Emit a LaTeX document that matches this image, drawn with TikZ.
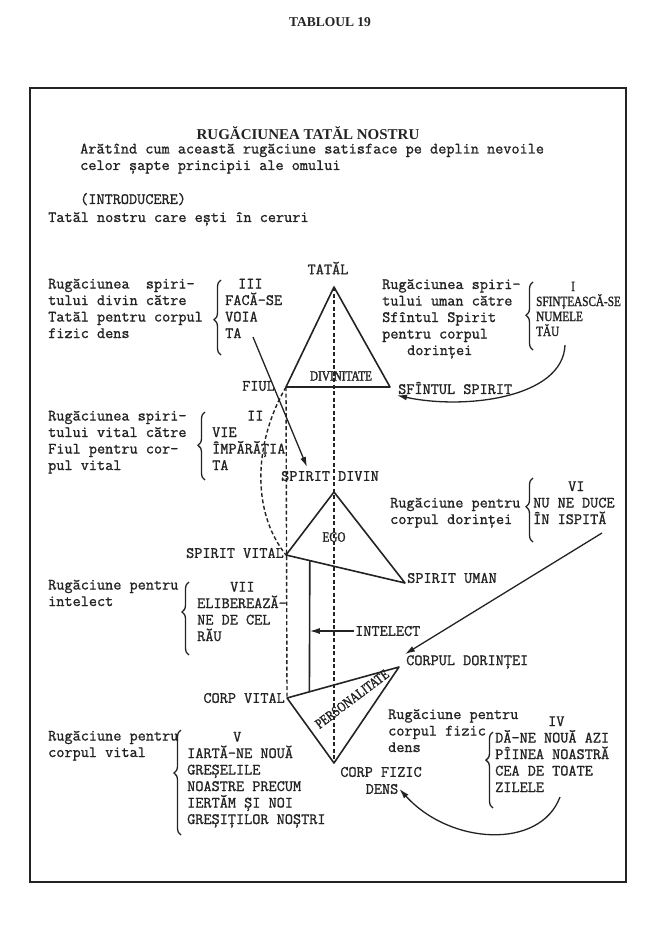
\documentclass[tikz,border=0pt]{standalone}
\usepackage{fontspec}
\usepackage{tikz}
\usetikzlibrary{arrows.meta,positioning,calc,decorations.pathreplacing}
\setmonofont[FakeBold=1.2]{Latin Modern Mono}
\newfontfamily\headfont{Liberation Serif}
\newfontfamily\condfont[FakeStretch=0.8,FakeBold=1.5]{Liberation Serif}
\definecolor{ink}{RGB}{35,35,35}
\newcommand{\tw}{\fontsize{15.8}{16.5}\selectfont\ttfamily\bfseries}

\begin{document}
\begin{tikzpicture}[
  x=1pt, y=-1pt,
  txt/.style={font=\tw, text=ink, align=left, anchor=base west, inner sep=0pt},
  lbl/.style={font=\tw, text=ink, inner sep=1pt},
  cond/.style={font=\fontsize{14}{15}\selectfont\condfont, text=ink, inner sep=0pt},
  edge/.style={draw=ink, line width=1.6pt, line join=round},
  dline/.style={draw=ink, line width=1.4pt, dash pattern=on 4pt off 2.5pt},
  arr/.style={-{Latex[length=10pt,width=6pt]}, draw=ink, line width=1.3pt},
  brc/.style={decorate, decoration={brace, amplitude=7pt, aspect=#1}, draw=ink, line width=1.3pt}
]
\useasboundingbox (0,0) rectangle (657,925);
\draw[draw=ink, line width=1.7pt] (30,88) rectangle (626,882);

\node[font=\fontsize{13.5}{15}\selectfont\headfont\bfseries, text=ink] (tabl) at (330,22) {TABLOUL 19};
\node[font=\fontsize{15}{15}\selectfont\headfont\bfseries, text=ink] (titlu) at (308,133) {RUGĂCIUNEA TATĂL NOSTRU};
\node[txt] (intro) at (80,170) {Arătînd cum această rugăciune satisface pe deplin nevoile\\celor șapte principii ale omului};
\node[txt] (introd) at (80,204) {(INTRODUCERE)};
\node[txt] (tatal0) at (48,222) {Tatăl nostru care ești în ceruri};

\coordinate (tA) at (334,287);
\coordinate (fi) at (286,387);
\coordinate (ss) at (390,387);
\coordinate (sd) at (334,492);
\coordinate (sv) at (286,555);
\coordinate (su) at (405,583);
\coordinate (cd) at (399,667);
\coordinate (cv) at (287,698);
\coordinate (cf) at (334,763);
\coordinate (iTop) at ($(sv)!0.2!(su)$);
\coordinate (iBot) at ($(cv)!0.2!(cd)$);

\draw[dline] (tA) -- (cf);
\draw[dline] (fi) -- (cv);
\draw[dline] (fi) .. controls (255,440) and (250,510) .. (sv);
\draw[edge] (tA) -- (fi) -- (ss) -- cycle;
\draw[edge] (sd) -- (sv) -- (su) -- cycle;
\draw[edge] (cv) -- (cd) -- (cf) -- cycle;
\draw[edge] (iTop) -- (iBot);

\node[lbl] (tatal) at (328,268) {TATĂL};
\node[lbl, anchor=east] (fiul) at (276,386) {FIUL};
\node[lbl, anchor=west] (sfsp) at (397,388) {SFÎNTUL SPIRIT};
\node[cond] (divin) at (341,376) {DIVINITATE};
\node[lbl] (sdiv) at (330,476) {SPIRIT DIVIN};
\node[cond] (ego) at (334,537) {EGO};
\node[lbl, anchor=east] (svit) at (285,553) {SPIRIT VITAL};
\node[lbl, anchor=west] (suman) at (406,578) {SPIRIT UMAN};
\node[lbl, anchor=west] (intel) at (354,631) {INTELECT};
\node[lbl, anchor=west] (cdor) at (405,662) {CORPUL DORINȚEI};
\node[lbl, anchor=east] (cvit) at (286,698) {CORP VITAL};
\node[cond, rotate=37] (pers) at (352,699) {PERSONALITATE};
\node[lbl] (cfiz) at (381,772) {CORP FIZIC};
\node[lbl] (dens) at (382,789) {DENS};

\node[txt] (lIII) at (48,338) {Rugăciunea\ \ spiri-\\tului divin către\\Tatăl pentru corpul\\fizic dens};
\draw[brc=0.47] (221,355) -- (221,280);
\node[txt] (rIII) at (225,338) {\hspace*{13pt}III\\FACĂ-SE\\VOIA\\TA};
\coordinate (taIII) at (253,337);
\coordinate (sdivT) at (307,467);

\node[txt] (lI) at (382,355) {Rugăciunea spiri-\\tului uman către\\Sfîntul Spirit\\pentru corpul\\\hspace*{25pt}dorinței};
\draw[brc=0.51] (533,350) -- (533,282);
\node[cond, align=left, anchor=base west] (rI) at (536,336) {\hspace*{35pt}I\\SFINȚEASCĂ-SE\\NUMELE\\TĂU};
\coordinate (tauI) at (565,345);

\node[txt] (lII) at (48,470) {Rugăciunea spiri-\\tului vital către\\Fiul pentru cor-\\pul vital};
\draw[brc=0.51] (205,480) -- (205,412);
\node[txt] (rII) at (212,470) {\hspace*{35pt}II\\VIE\\ÎMPĂRĂȚIA\\TA};

\node[txt] (lVI) at (390,524) {Rugăciune pentru\\corpul dorinței};
\draw[brc=0.55] (533,542) -- (533,478);
\node[txt] (rVI) at (533,524) {\hspace*{35pt}VI\\NU NE DUCE\\ÎN ISPITĂ};
\coordinate (ispVI) at (602,533);

\node[txt] (lVII) at (48,606) {Rugăciune pentru\\intelect};
\draw[brc=0.59] (189,655) -- (189,582);
\node[txt] (rVII) at (197,641) {\hspace*{33pt}VII\\ELIBEREAZĂ-\\NE DE CEL\\RĂU};

\node[txt] (lV) at (48,757) {Rugăciune pentru\\corpul vital};
\draw[brc=0.59] (181,835) -- (181,730);
\node[txt] (rV) at (187,824) {\hspace*{46pt}V\\IARTĂ-NE NOUĂ\\GREȘELILE\\NOASTRE PRECUM\\IERTĂM ȘI NOI\\GREȘIȚILOR NOȘTRI};

\node[txt] (lIV) at (388,752) {Rugăciune pentru\\corpul fizic\\dens};
\draw[brc=0.63] (493,808) -- (493,732);
\node[txt] (rIV) at (495,792) {\hspace*{53pt}IV\\DĂ-NE NOUĂ AZI\\PÎINEA NOASTRĂ\\CEA DE TOATE\\ZILELE};
\coordinate (zilIV) at (560,797);

\draw[arr] (taIII) -- (sdivT);
\draw[arr] (tauI) .. controls (563,398) and (465,410) .. (sfsp.south west);
\draw[arr] (ispVI) -- (cdor.north west);
\draw[arr] (zilIV) .. controls (540,850) and (450,845) .. (dens.east);
\draw[arr] (intel.west) -- (iTop |- intel.west);
\end{tikzpicture}
\end{document}
